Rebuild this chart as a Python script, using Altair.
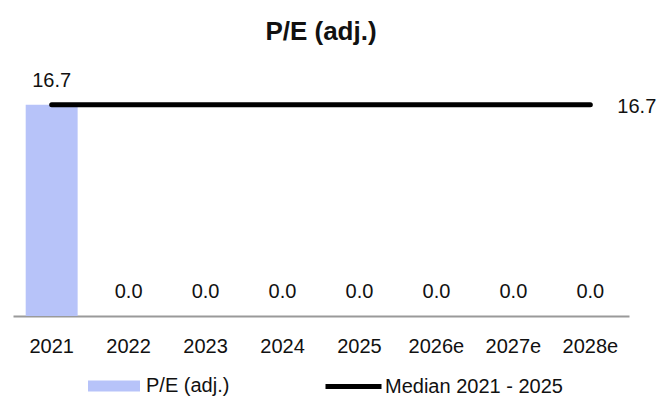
import altair as alt
import pandas as pd

years = ["2021", "2022", "2023", "2024", "2025", "2026e", "2027e", "2028e"]
pe_values = [16.7, 0.0, 0.0, 0.0, 0.0, 0.0, 0.0, 0.0]
median_label = "Median 2021 - 2025"
median_value = 16.7
series_label = "P/E (adj.)"

FONT = "Liberation Sans"
TEXT_COLOR = "#111111"
BAR_COLOR = "#b7c3f9"
FS = 20

bars_df = pd.DataFrame({"year": years, "value": pe_values, "series": series_label})
median_df = pd.DataFrame({
    "year": [years[0], years[-1]],
    "value": [median_value, median_value],
    "series": median_label,
    "label": ["", f"{median_value:.1f}"],
})

x_scale = alt.Scale(domain=years, paddingInner=0.325, paddingOuter=0.165)
y_scale = alt.Scale(domain=[0, 20])

x_enc = alt.X("year:N", sort=years, scale=x_scale,
              axis=alt.Axis(title=None, ticks=False, labelAngle=0, labelFont=FONT,
                            labelFontSize=FS, labelColor=TEXT_COLOR, labelPadding=20,
                            domainColor="#9a9a9a", domainWidth=2, grid=False))

bars = alt.Chart(bars_df).mark_bar().encode(
    x=x_enc,
    y=alt.Y("value:Q", scale=y_scale, axis=None),
    fill=alt.Fill("series:N", scale=alt.Scale(range=[BAR_COLOR]),
                  legend=alt.Legend(title=None, orient="none", legendX=75, legendY=297,
                                    symbolType="M-1,-0.21H1V0.21H-1Z", symbolSize=2704,
                                    symbolStrokeWidth=0, labelFont=FONT, labelFontSize=FS,
                                    labelColor=TEXT_COLOR, labelOffset=6, labelLimit=0)),
)

bar_labels = alt.Chart(bars_df).mark_text(dy=-24, font=FONT, fontSize=FS,
                                          color=TEXT_COLOR).encode(
    x=alt.X("year:N", sort=years, scale=x_scale),
    y=alt.Y("value:Q", scale=y_scale),
    text=alt.Text("value:Q", format=".1f"),
)

median_line = alt.Chart(median_df).mark_line(strokeWidth=5, strokeCap="round").encode(
    x=alt.X("year:N", sort=years, scale=x_scale),
    y=alt.Y("value:Q", scale=y_scale),
    stroke=alt.Stroke("series:N", scale=alt.Scale(range=["#000000"]),
                      legend=alt.Legend(title=None, orient="none", legendX=310, legendY=293,
                                        symbolType="stroke", symbolSize=3136,
                                        symbolStrokeWidth=5, labelFont=FONT,
                                        labelFontSize=FS, labelColor=TEXT_COLOR,
                                        labelOffset=1, labelLimit=0)),
)

median_text = alt.Chart(median_df).mark_text(align="left", dx=27, dy=2, font=FONT,
                                               fontSize=FS, color=TEXT_COLOR).encode(
    x=alt.X("year:N", sort=years, scale=x_scale),
    y=alt.Y("value:Q", scale=y_scale),
    text="label:N",
)

chart = alt.layer(bars, bar_labels, median_line, median_text).resolve_legend(
    fill="independent", stroke="independent"
).properties(
    width=616,
    height=253,
    background="white",
    title=alt.Title(series_label, font=FONT, fontSize=26, fontWeight="bold",
                    color=TEXT_COLOR, anchor="middle", offset=18),
    autosize=alt.AutoSizeParams(type="none"),
    padding={"left": 13, "top": 63, "right": 30, "bottom": 82},
).configure_view(stroke=None)

chart.save("out.html", embed_options={"renderer": "svg", "actions": False})
